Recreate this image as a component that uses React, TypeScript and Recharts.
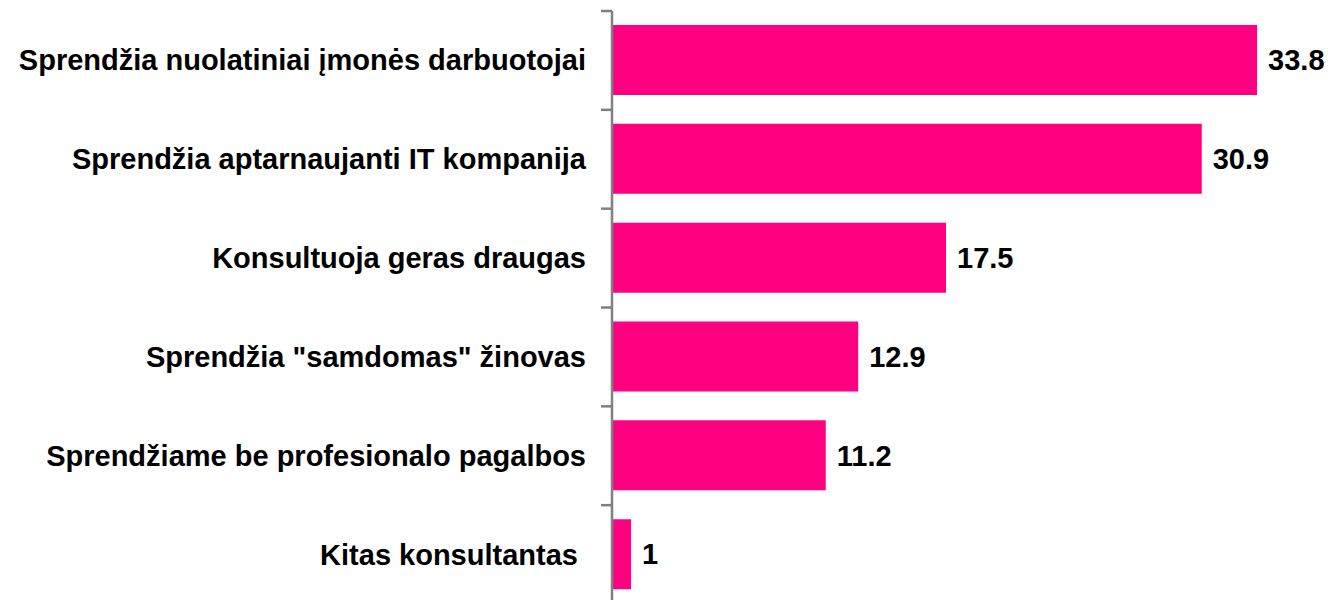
import React from "react";
import { BarChart, Bar, XAxis, YAxis, LabelList } from "recharts";

const categories = [
  "Sprendžia nuolatiniai įmonės darbuotojai",
  "Sprendžia aptarnaujanti IT kompanija",
  "Konsultuoja geras draugas",
  "Sprendžia \"samdomas\" žinovas",
  "Sprendžiame be profesionalo pagalbos",
  "Kitas konsultantas\u00A0",
];
const values = [33.8, 30.9, 17.5, 12.9, 11.2, 1];

const data = categories.map((name, i) => ({ name, value: values[i] }));

const FONT = "'Liberation Sans', Arial, sans-serif";

const CatTick = (props: any) => {
  const { x, y, payload } = props;
  const off = payload && payload.offset ? payload.offset : 0;
  return (
    <g>
      <line x1={x + 15} x2={x + 26} y1={y - off} y2={y - off} stroke="#808080" strokeWidth={2.5} />
      <text
        x={x}
        y={y}
        textAnchor="end"
        dominantBaseline="central"
        fontFamily={FONT}
        fontWeight="bold"
        fontSize={29}
        fill="#000"
      >
        {payload.value}
      </text>
    </g>
  );
};

export default function App() {
  return (
    <div
      style={{
        position: "fixed",
        left: 0,
        top: 0,
        width: 1328,
        height: 600,
        overflow: "hidden",
        background: "#fff",
      }}
    >
      <div style={{ position: "absolute", left: 8, top: 8 }}>
        <BarChart
          width={1320}
          height={600}
          data={data}
          layout="vertical"
          margin={{ top: 3, right: 48, bottom: 4, left: 0 }}
        >
          <XAxis type="number" domain={[0, 35]} hide />
          <YAxis
            type="category"
            dataKey="name"
            width={604}
            tickLine={false}
            axisLine={{ stroke: "#808080", strokeWidth: 2.5 }}
            tick={<CatTick />}
            tickMargin={15}
            tickSize={11}
            interval={0}
          />
          <Bar dataKey="value" fill="#FF0080" barSize={70} isAnimationActive={false}>
            <LabelList
              dataKey="value"
              position="right"
              offset={11}
              style={{ fontFamily: FONT, fontWeight: "bold", fontSize: 29, fill: "#000" }}
            />
          </Bar>
        </BarChart>
      </div>
    </div>
  );
}
